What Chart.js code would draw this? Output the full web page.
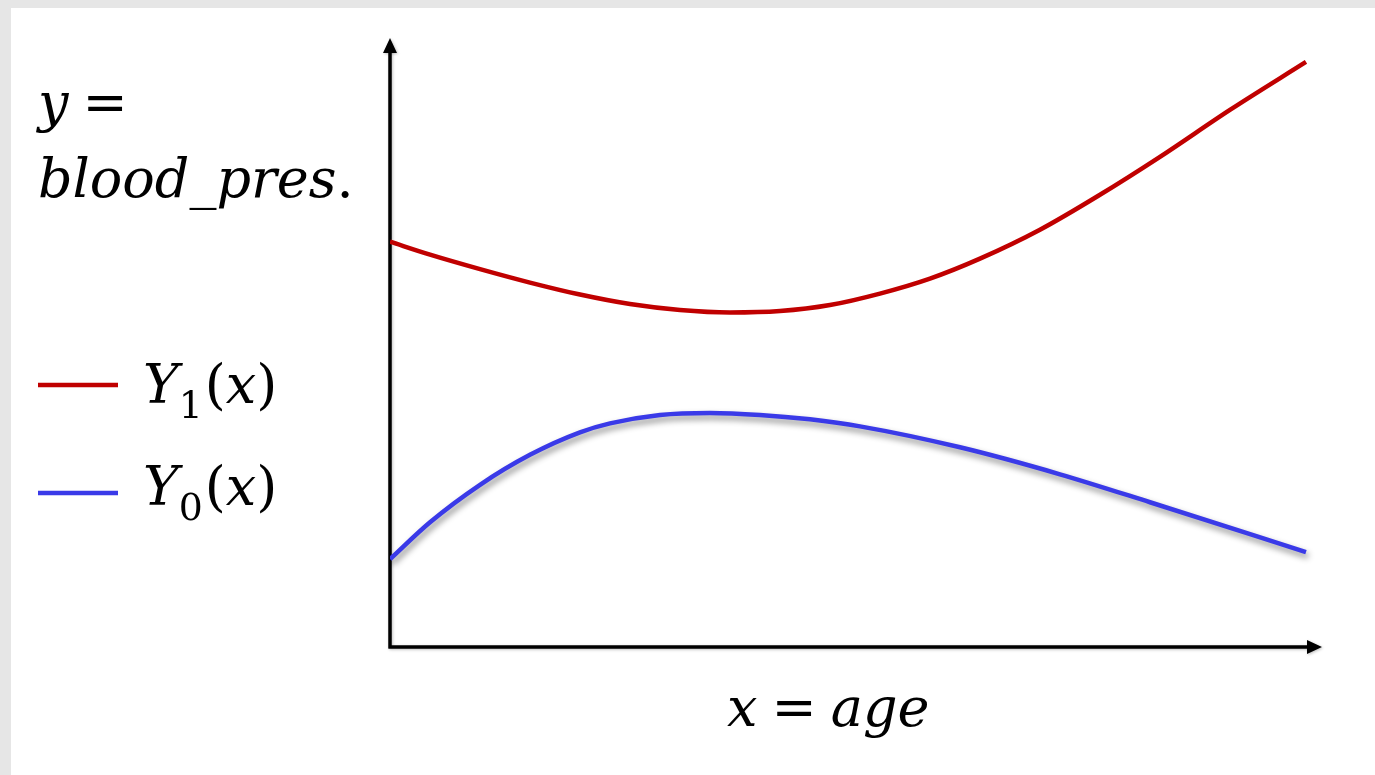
<!DOCTYPE html>
<html>
<head>
<meta charset="utf-8">
<script src="https://cdn.jsdelivr.net/npm/chart.js@4"></script>
<style>
html,body{margin:0;padding:0;background:#e6e6e6;overflow:hidden}
#wrap{position:absolute;left:11px;top:8px;width:1364px;height:767px;background:#fff}
</style>
</head>
<body>
<div id="wrap"><canvas id="chart" width="1364" height="767"></canvas></div>
<script>
// potential outcomes: blood pressure vs age
const ageY1=[0,4.37,9.83,15.28,20.74,26.2,31.66,37.12,42.58,48.03,53.49,58.95,64.41,70.96,77.51,84.06,91.7,100];
const bpY1=[66.56,64.43,62.05,59.84,57.87,56.31,55.33,54.92,55.16,56.15,58.03,60.49,63.77,68.52,74.26,80.49,88.2,96.07];
const ageY0=[0,4.37,9.83,15.28,20.74,24.02,29.48,34.93,40.39,45.85,51.31,62.23,73.14,82.97,100];
const bpY0=[14.43,20.49,26.64,31.56,35.25,36.72,38.11,38.44,38.11,37.38,36.23,32.79,28.36,23.77,15.57];

const RED="#c00000", BLUE="#3a3ae8";
const MATH='"DejaVu Serif"';

const toXY=(xs,ys)=>xs.map((x,i)=>({x:x,y:ys[i]}));

// draw a run of pieces: {t, it (italic), sub (subscript)}
function drawMath(ctx,pieces,x,y,size){
  pieces.forEach(p=>{
    const fs=p.sub?size*0.7:size;
    ctx.font=(p.it?"italic ":"")+fs+"px "+MATH;
    ctx.fillText(p.t,x,y+(p.sub?size*0.28:0));
    x+=ctx.measureText(p.t).width+(p.gap||0);
  });
}

const axesPlugin={
  id:"axesArrows",
  beforeDatasetsDraw(chart){
    const {ctx,chartArea:a,scales:{x,y}}=chart;
    const x0=x.getPixelForValue(0), y0=y.getPixelForValue(0);
    ctx.save();
    ctx.strokeStyle="#000"; ctx.fillStyle="#000"; ctx.lineWidth=3.5;
    ctx.shadowColor="rgba(0,0,0,0.25)"; ctx.shadowBlur=3; ctx.shadowOffsetX=1; ctx.shadowOffsetY=1;
    ctx.beginPath();
    ctx.moveTo(x0,y0+1.5); ctx.lineTo(x0,a.top+10);
    ctx.moveTo(x0-1.5,y0); ctx.lineTo(a.right-10,y0);
    ctx.stroke();
    ctx.beginPath();
    ctx.moveTo(x0,a.top); ctx.lineTo(x0-7,a.top+15); ctx.lineTo(x0+7,a.top+15); ctx.closePath();
    ctx.moveTo(a.right,y0); ctx.lineTo(a.right-15,y0-7); ctx.lineTo(a.right-15,y0+7); ctx.closePath();
    ctx.fill();
    ctx.restore();
  },
  beforeDatasetDraw(chart,args){
    if(args.index===1){
      const ctx=chart.ctx;
      ctx.save();
      ctx.shadowColor="rgba(0,0,0,0.45)"; ctx.shadowBlur=6; ctx.shadowOffsetX=2; ctx.shadowOffsetY=4;
    }
  },
  afterDatasetDraw(chart,args){
    if(args.index===1) chart.ctx.restore();
  },
  afterDraw(chart){
    const ctx=chart.ctx;
    ctx.save();
    ctx.fillStyle="#000"; ctx.textBaseline="alphabetic";
    const S=54;
    drawMath(ctx,[{t:"y",it:true,gap:14},{t:"="}],27,113,S);
    drawMath(ctx,[{t:"blood_pres",it:true},{t:"."}],27,189,S);
    // legend
    ctx.lineWidth=4.5;
    [[RED,377,"1",395],[BLUE,485,"0",497]].forEach(([c,ly,sub,by])=>{
      ctx.strokeStyle=c;
      ctx.beginPath(); ctx.moveTo(27,ly); ctx.lineTo(107,ly); ctx.stroke();
      drawMath(ctx,[{t:"Y",it:true},{t:sub,sub:true,gap:2},{t:"("},{t:"x",it:true},{t:")"}],132,by,S);
    });
    drawMath(ctx,[{t:"x",it:true,gap:14},{t:"=",gap:14},{t:"age",it:true}],716,718,S);
    ctx.restore();
  }
};

new Chart(document.getElementById("chart"),{
  type:"line",
  data:{datasets:[
    {label:"Y1(x)",data:toXY(ageY1,bpY1),borderColor:RED,borderWidth:4.5},
    {label:"Y0(x)",data:toXY(ageY0,bpY0),borderColor:BLUE,borderWidth:4.5}
  ]},
  options:{
    responsive:false,
    animation:false,
    layout:{padding:{left:379,top:30,right:53,bottom:128}},
    elements:{point:{radius:0},line:{cubicInterpolationMode:"monotone",borderCapStyle:"butt"}},
    scales:{
      x:{type:"linear",min:0,max:101.75,display:false},
      y:{min:0,max:100,display:false}
    },
    plugins:{legend:{display:false},tooltip:{enabled:false}}
  },
  plugins:[axesPlugin]
});
</script>
</body>
</html>
